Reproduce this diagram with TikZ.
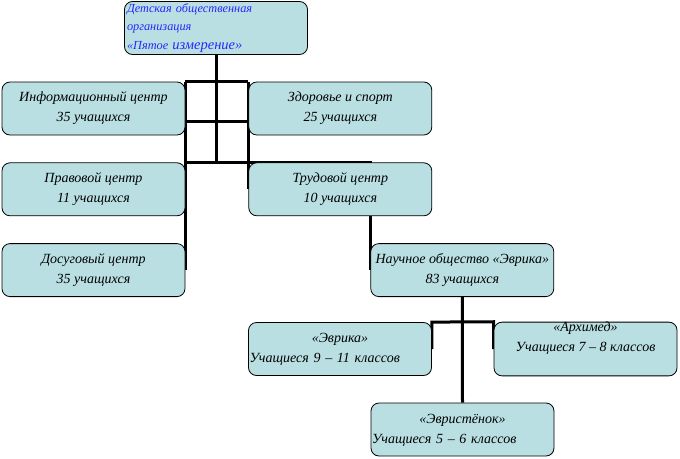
\documentclass[tikz,border=0pt]{standalone}
\usepackage{fontspec}
\setmainfont{Liberation Serif}
\usetikzlibrary{positioning,backgrounds}
\definecolor{boxfill}{RGB}{185,223,226}
\definecolor{titleblue}{RGB}{40,40,255}

\begin{document}
\begin{tikzpicture}[
                                x = 1pt,
                                y = -1pt,
                                node distance = 27pt,
                                font = \fontsize{14}{20}\selectfont\itshape
                                ]

                                \tikzstyle{unit}=[
                                        draw = black,
                                        line width = 0.8pt,
                                        rounded corners = 8pt,
                                        fill = boxfill,
                                        minimum width = 183pt,
                                        minimum height = 53pt,
                                        inner sep = 0pt,
                                        align = center
                                ]
                                \tikzstyle{link}=[
                                        draw = black,
                                        line width = 3pt
                                ]

                                \useasboundingbox (0,0) rectangle (680,458);

                                \node[unit, text width = 178pt, align = left, text = titleblue,
                                      font = \fontsize{12.3}{18.5}\selectfont\itshape] (org) at (216,28)
                                      {Детская общественная\\организация\\«Пятое {\fontsize{14.5}{18.5}\selectfont измерение»}};
                                \node[unit] (info) at (93.5,108.5) {Информационный центр\\35 учащихся};
                                \node[unit] (zdor) [right=63pt of info] {Здоровье и спорт\\25 учащихся};
                                \node[unit] (prav) [below=27pt of info] {Правовой центр\\11 учащихся};
                                \node[unit] (trud) [below=27pt of zdor] {Трудовой центр\\10 учащихся};
                                \node[unit] (dosug) [below=27pt of prav] {Досуговый центр\\35 учащихся};
                                \node[unit] (nauch) [right=185pt of dosug] {Научное общество «Эврика»\\83 учащихся};
                                \node[unit, text width = 181pt, align = left] (evr) at (340,349)
                                      {\hfill«Эврика»\hfill\null\\Учащиеся 9 – 11 классов};
                                \node[unit, text depth = 24pt] (arch) at (585.5,349) {«Архимед»\\Учащиеся 7 – 8 классов};
                                \node[unit, text width = 181pt, align = left, text depth = 21pt] (evrn) at (462.5,429.5)
                                      {\hfill«Эвристёнок»\hfill\null\\Учащиеся 5 – 6 классов};
                                \coordinate (cross) at (185,121);

                                \begin{pgfonlayer}{background}
                                \draw[link] (org.south) -- (org.south |- prav.north);
                                \draw[link] (info.north east) -- (zdor.north west);
                                \draw[link] (info.north east) -- (dosug.east);
                                \draw[link] (zdor.north west) -- (trud.west);
                                \draw[link] (cross) -- (cross -| zdor.west);
                                \draw[link] (prav.north east) -| (nauch.west);
                                \draw[link] (nauch.south) -- (evrn.north);
                                \draw[link] (evr.east) -- (evr.north east) -- (arch.north west) -- (arch.west);
                                \end{pgfonlayer}
\end{tikzpicture}
\end{document}
